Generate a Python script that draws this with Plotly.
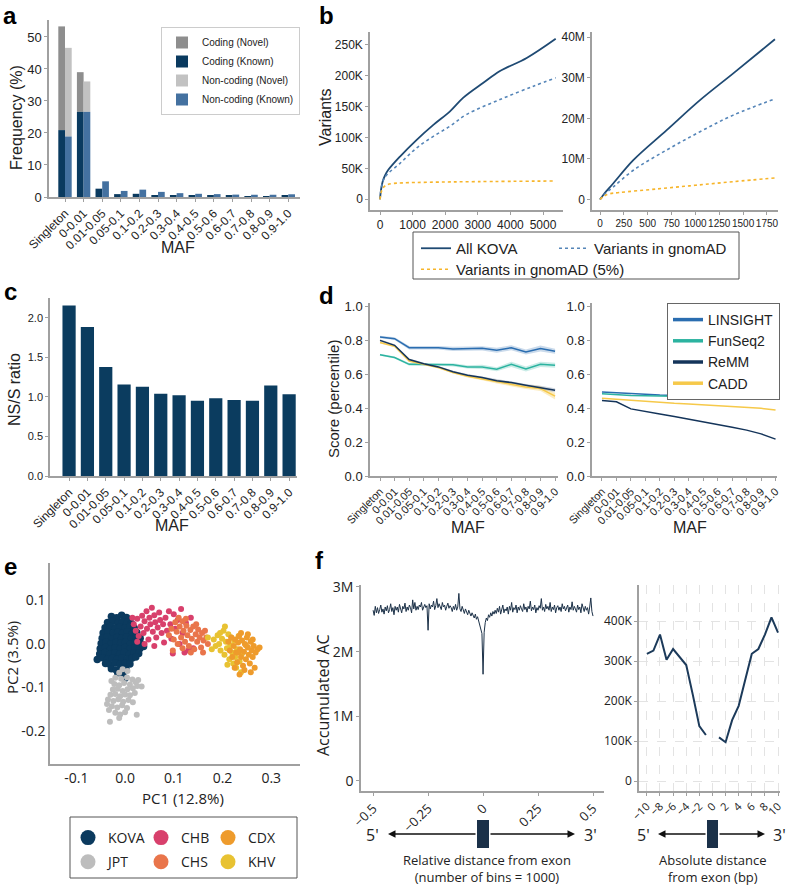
import plotly.graph_objects as go

W, H = 788, 885
def fx(px): return px / W
def fy(py): return 1 - py / H

FONT = "Liberation Sans, Arial, sans-serif"
FONT2 = "Open Sans, sans-serif"
TXT = "#222222"
AXC = "#a0a0a0"

# ---------------- data ----------------
maf_cats = ["Singleton", "0-0.01", "0.01-0.05", "0.05-0.1", "0.1-0.2", "0.2-0.3", "0.3-0.4",
            "0.4-0.5", "0.5-0.6", "0.6-0.7", "0.7-0.8", "0.8-0.9", "0.9-1.0"]

# panel a (frequency %)
a_coding_known = [20.9, 26.6, 2.6, 0.9, 1.0, 0.6, 0.5, 0.45, 0.35, 0.35, 0.3, 0.3, 0.35]
a_coding_total = [53.3, 39.0, 2.6, 0.9, 1.0, 0.6, 0.5, 0.45, 0.35, 0.35, 0.3, 0.3, 0.35]
a_noncoding_known = [18.9, 26.6, 4.9, 1.9, 2.3, 1.6, 1.2, 1.0, 0.9, 0.75, 0.7, 0.7, 0.85]
a_noncoding_total = [46.6, 36.1, 4.9, 1.9, 2.3, 1.6, 1.2, 1.0, 0.9, 0.75, 0.7, 0.7, 0.85]
a_yticks = [0, 10, 20, 30, 40, 50]

# panel b (variants vs samples)
bL_kova_x = [0, 30, 82, 150, 255, 613, 1125, 1636, 2147, 2556, 3170, 3680, 4499, 5389]
bL_kova_y = [0, 15, 28.6, 38, 47.5, 69, 96, 120, 142, 164, 188, 207, 228, 259]          # thousands
bL_gnomad_x = [0, 40, 120, 255, 613, 1125, 1636, 2147, 2658, 3680, 4703, 5389]
bL_gnomad_y = [0, 18, 33, 42, 58, 83, 101.5, 118, 137, 161, 182.5, 196]
bL_g5_x = [0, 40, 100, 200, 400, 700, 1500, 3000, 5389]
bL_g5_y = [0, 12, 19, 23, 25.5, 26.5, 27.5, 28.5, 29.5]
bL_yticks = [0, 50, 100, 150, 200, 250]
bL_yticktext = ["0", "50K", "100K", "150K", "200K", "250K"]
bL_xticks = [0, 1000, 2000, 3000, 4000, 5000]

bR_kova_x = [0, 40, 140, 349, 699, 1048, 1397, 1834]
bR_kova_y = [0, 1.3, 4.0, 9.7, 17.1, 24.5, 31.1, 39.5]                                  # millions
bR_gnomad_x = [0, 40, 140, 349, 699, 1048, 1397, 1834]
bR_gnomad_y = [0, 1.1, 3.1, 7.2, 12.2, 16.7, 20.8, 24.8]
bR_g5_x = [0, 40, 100, 200, 600, 1000, 1400, 1834]
bR_g5_y = [0, 0.8, 1.4, 1.7, 2.6, 3.5, 4.4, 5.3]
bR_yticks = [0, 10, 20, 30, 40]
bR_yticktext = ["0", "10M", "20M", "30M", "40M"]
bR_xticks = [0, 250, 500, 750, 1000, 1250, 1500, 1750]

# panel c (NS/S ratio)
c_ratio = [2.157, 1.886, 1.381, 1.157, 1.131, 1.042, 1.021, 0.953, 0.983, 0.962, 0.953, 1.144, 1.034]

# panel d (score percentile)
dL_linsight = [0.818, 0.808, 0.755, 0.755, 0.755, 0.748, 0.748, 0.751, 0.740, 0.755, 0.730, 0.750, 0.734]
dL_funseq2 = [0.714, 0.697, 0.657, 0.657, 0.657, 0.654, 0.642, 0.642, 0.628, 0.657, 0.630, 0.657, 0.652]
dL_remm = [0.798, 0.769, 0.685, 0.661, 0.642, 0.613, 0.593, 0.579, 0.560, 0.550, 0.534, 0.521, 0.505]
dL_cadd = [0.785, 0.763, 0.677, 0.657, 0.638, 0.609, 0.587, 0.571, 0.554, 0.538, 0.524, 0.515, 0.470]
dL_linsight_err = [0.008, 0.008, 0.010, 0.010, 0.010, 0.012, 0.012, 0.012, 0.015, 0.015, 0.015, 0.018, 0.015]
dL_funseq2_err = [0.006, 0.006, 0.008, 0.008, 0.008, 0.010, 0.010, 0.012, 0.012, 0.015, 0.015, 0.015, 0.015]
dL_remm_err = [0.006, 0.006, 0.006, 0.006, 0.006, 0.006, 0.007, 0.007, 0.008, 0.008, 0.008, 0.010, 0.012]
dL_cadd_err = [0.006, 0.006, 0.006, 0.006, 0.006, 0.006, 0.007, 0.008, 0.010, 0.012, 0.012, 0.015, 0.020]
dR_linsight = [0.495, 0.490, 0.482, 0.478, 0.476, 0.474, 0.472, 0.470, 0.468, 0.467, 0.466, 0.466, 0.462]
dR_funseq2 = [0.484, 0.478, 0.474, 0.472, 0.470, 0.468, 0.466, 0.465, 0.464, 0.463, 0.462, 0.462, 0.460]
dR_remm = [0.445, 0.437, 0.395, 0.378, 0.365, 0.350, 0.335, 0.320, 0.302, 0.287, 0.270, 0.248, 0.217]
dR_cadd = [0.458, 0.452, 0.442, 0.436, 0.432, 0.428, 0.424, 0.419, 0.414, 0.409, 0.404, 0.398, 0.388]

# panel e (PCA)
KOVA_x = [-0.028, -0.017, -0.007, 0.003,
          -0.036, -0.025, -0.015, -0.005, 0.005, 0.013,
          -0.041, -0.030, -0.020, -0.010, 0.000, 0.010, 0.019,
          -0.045, -0.035, -0.025, -0.015, -0.005, 0.005, 0.015, 0.024,
          -0.047, -0.037, -0.027, -0.017, -0.007, 0.003, 0.013, 0.023, 0.031,
          -0.049, -0.039, -0.029, -0.019, -0.009, 0.001, 0.011, 0.021, 0.032,
          -0.051, -0.040, -0.030, -0.020, -0.010, 0.000, 0.010, 0.020, 0.030, 0.038,
          -0.052, -0.041, -0.031, -0.021, -0.011, -0.001, 0.009, 0.019, 0.028,
          -0.057, -0.046, -0.036, -0.026, -0.016, -0.006, 0.004, 0.014, 0.022,
          -0.040, -0.030, -0.020, -0.010, 0.000, 0.010,
          -0.028, -0.018, -0.008, 0.002,
          -0.015, 0.000, -0.005]
KOVA_y = [0.063, 0.060, 0.066, 0.061,
          0.049, 0.052, 0.048, 0.051, 0.050, 0.047,
          0.037, 0.040, 0.036, 0.039, 0.037, 0.040, 0.036,
          0.025, 0.028, 0.024, 0.027, 0.025, 0.028, 0.024, 0.026,
          0.013, 0.016, 0.012, 0.015, 0.013, 0.016, 0.012, 0.015, 0.013,
          0.001, 0.004, 0.000, 0.003, 0.001, 0.004, 0.000, 0.003, 0.001,
          -0.011, -0.008, -0.012, -0.009, -0.011, -0.008, -0.012, -0.009, -0.011, -0.006,
          -0.023, -0.020, -0.024, -0.021, -0.023, -0.020, -0.024, -0.021, -0.022,
          -0.036, -0.032, -0.035, -0.033, -0.035, -0.032, -0.036, -0.033, -0.030,
          -0.045, -0.048, -0.044, -0.047, -0.045, -0.046,
          -0.057, -0.060, -0.056, -0.059,
          -0.066, -0.079, -0.069]
JPT_x = [-0.005, 0.005, -0.012,
         -0.020, -0.008, 0.004, 0.015, -0.028,
         -0.022, -0.012, -0.002, 0.010, 0.022, 0.027,
         -0.025, -0.015, -0.005, 0.005, 0.016, 0.025,
         -0.030, -0.020, -0.010, 0.000, 0.010, 0.020, 0.034,
         -0.035, -0.024, -0.014, -0.004, 0.007, 0.016,
         -0.027, -0.016, -0.006, 0.004, -0.033,
         -0.020, -0.010, 0.000, -0.012,
         -0.031, 0.024, -0.037]
JPT_y = [-0.058, -0.062, -0.066,
         -0.078, -0.080, -0.077, -0.082, -0.085,
         -0.092, -0.095, -0.090, -0.093, -0.088, -0.083,
         -0.105, -0.103, -0.108, -0.104, -0.102, -0.097,
         -0.117, -0.115, -0.120, -0.116, -0.118, -0.113, -0.098,
         -0.128, -0.131, -0.127, -0.133, -0.129, -0.134,
         -0.143, -0.146, -0.141, -0.147, -0.152,
         -0.158, -0.162, -0.157, -0.170,
         -0.179, -0.163, -0.138]
CHB_x = [0.018, 0.022, 0.025, 0.028, 0.032, 0.035, 0.038, 0.040, 0.044, 0.045,
         0.048, 0.050, 0.052, 0.055, 0.057, 0.060, 0.062, 0.064, 0.067, 0.070,
         0.072, 0.075, 0.078, 0.080, 0.083, 0.086, 0.090, 0.093, 0.095, 0.100,
         0.103, 0.108, 0.112, 0.115, 0.118, 0.122, 0.125, 0.130, 0.135, 0.140,
         0.060, 0.040, 0.025, 0.015, 0.098]
CHB_y = [0.045, 0.030, 0.058, 0.018, 0.040, 0.065, 0.025, 0.052, 0.075, 0.035,
         0.010, 0.060, 0.045, 0.083, 0.028, 0.066, 0.050, 0.015, 0.038, 0.072,
         0.055, 0.025, 0.045, 0.003, 0.060, 0.030, 0.075, 0.045, 0.012, 0.068,
         0.035, 0.055, 0.000, 0.080, 0.025, -0.020, 0.048, -0.015, 0.060, -0.010,
         -0.005, 0.000, 0.005, 0.060, -0.022]
CHS_x = [0.090, 0.095, 0.100, 0.103, 0.106, 0.110, 0.112, 0.115, 0.118, 0.120,
         0.123, 0.126, 0.128, 0.131, 0.134, 0.137, 0.140, 0.142, 0.145, 0.148,
         0.150, 0.153, 0.156, 0.158, 0.161, 0.164, 0.167, 0.170,
         0.135, 0.118, 0.108, 0.146, 0.160, 0.125, 0.098]
CHS_y = [0.020, 0.035, 0.010, 0.050, 0.028, 0.060, 0.040, 0.015, 0.052, 0.030,
         0.005, 0.042, 0.020, -0.005, 0.032, 0.012, 0.040, -0.012, 0.022, 0.005,
         0.033, 0.015, -0.008, 0.025, 0.008, 0.030, 0.015, 0.000,
         -0.020, -0.010, 0.000, 0.045, -0.020, 0.058, -0.015]
KHV_x = [0.182, 0.186, 0.190, 0.193, 0.196, 0.199, 0.202, 0.204, 0.207, 0.209,
         0.212, 0.214, 0.216, 0.218, 0.220, 0.222, 0.224, 0.226, 0.228, 0.230,
         0.233, 0.235, 0.238, 0.240, 0.210, 0.195, 0.170, 0.178, 0.205]
KHV_y = [0.010, -0.005, 0.020, 0.000, -0.015, 0.012, 0.030, -0.025, 0.005, -0.010,
         0.022, -0.035, -0.003, 0.015, -0.020, -0.045, 0.008, -0.030, -0.055, -0.012,
         0.018, -0.040, -0.065, -0.022, -0.048, 0.025, 0.015, -0.012, 0.040]
CDX_x = [0.212, 0.215, 0.218, 0.220, 0.223, 0.226, 0.228, 0.230, 0.232, 0.234,
         0.236, 0.238, 0.240, 0.242, 0.244, 0.246, 0.248, 0.250, 0.252, 0.254,
         0.256, 0.258, 0.260, 0.262, 0.264, 0.266, 0.268, 0.272, 0.276,
         0.245, 0.235, 0.225, 0.252, 0.238, 0.258, 0.232, 0.248, 0.262]
CDX_y = [0.005, -0.015, 0.015, -0.030, -0.005, 0.010, -0.020, -0.042, 0.003, 0.018,
         -0.012, -0.030, 0.008, -0.050, -0.018, 0.000, -0.035, 0.015, -0.008, -0.025,
         -0.045, 0.005, -0.015, -0.030, -0.005, -0.055, -0.020, -0.012, -0.008,
         -0.060, -0.070, -0.055, 0.022, 0.025, -0.065, -0.020, -0.003, 0.010]
e_xticks = [-0.1, 0.0, 0.1, 0.2, 0.3]
e_xticktext = ["-0.1", "0.0", "0.1", "0.2", "0.3"]
e_yticks = [-0.2, -0.1, 0.0, 0.1]
e_yticktext = ["-0.2", "-0.1", "0.0", "0.1"]

# panel f (accumulated AC, thousands)
f_left_ac = [2640, 2560, 2700, 2600, 2680, 2590, 2650, 2720, 2610, 2660,
             2580, 2690, 2630, 2710, 2600, 2650, 2740, 2620, 2680, 2570,
             2700, 2640, 2690, 2610, 2730, 2650, 2600, 2700, 2660, 2750,
             2620, 2690, 2640, 2720, 2680, 2600, 2800, 2660, 2760, 2640, 2700,
             2650, 2720, 2690, 2760, 2640, 2700, 2730, 2680, 2710, 2330,
             2740, 2660, 2720, 2690, 2780, 2650, 2710, 2820, 2680, 2740,
             2700, 2650, 2760, 2690, 2720, 2640, 2700, 2750, 2670, 2710,
             2680, 2620, 2700, 2650, 2730, 2640, 2690, 2900, 2660, 2620,
             2700, 2640, 2590, 2660, 2610, 2570, 2640, 2590, 2550, 2600,
             2560, 2520, 2580, 2500, 2540, 2470, 2420, 2350, 2280,
             1650,
             2300, 2450, 2520, 2480, 2570, 2530, 2600, 2550, 2620, 2580,
             2640, 2590, 2670, 2610, 2700, 2580, 2650, 2720, 2600, 2660,
             2630, 2690, 2580, 2700, 2640, 2760, 2610, 2680, 2650, 2720,
             2600, 2690, 2640, 2710, 2660, 2620, 2740, 2650, 2690, 2610,
             2700, 2660, 2780, 2630, 2690, 2650, 2720, 2600, 2680, 2640,
             2710, 2670, 2820, 2640, 2690, 2620, 2730, 2660, 2700, 2640,
             2760, 2620, 2690, 2650, 2720, 2600, 2680, 2710, 2640, 2690,
             2620, 2740, 2660, 2700, 2630, 2680, 2720, 2610, 2690, 2650,
             2770, 2640, 2700, 2660, 2610, 2720, 2650, 2690, 2600, 2740,
             2660, 2620, 2700, 2640, 2680, 2580, 2690, 2830, 2620, 2550]
f_left_bins = [-0.5 + 0.005 * i for i in range(len(f_left_ac))]
f_right_x = [-10, -9, -8, -7, -6, -5, -4, -3, -2, -1, 0, 1, 2, 3, 4, 5, 6, 7, 8, 9, 10]
f_right_ac = [318, 326, 366, 303, 330, 311, 290, 216, 137, 115, None,
              109, 97, 152, 188, 253, 318, 330, 366, 409, 371]
fL_yticks = [0, 1000, 2000, 3000]
fL_yticktext = ["0", "1M", "2M", "3M"]
fL_xticks = [-0.5, -0.25, 0, 0.25, 0.5]
fR_yticks = [0, 100, 200, 300, 400]
fR_yticktext = ["0", "100K", "200K", "300K", "400K"]
fR_xticks = [-10, -8, -6, -4, -2, 0, 2, 4, 6, 8, 10]

# ---------------- figure ----------------
fig = go.Figure()

# panel a
a_coding_novel = [t - k for t, k in zip(a_coding_total, a_coding_known)]
a_noncoding_novel = [t - k for t, k in zip(a_noncoding_total, a_noncoding_known)]
fig.add_trace(go.Bar(x=maf_cats, y=a_coding_novel, base=a_coding_known, name="Coding (Novel)",
                     marker=dict(color="#8e8e8e", line_width=0), offsetgroup="coding",
                     xaxis="x", yaxis="y", legend="legend"))
fig.add_trace(go.Bar(x=maf_cats, y=a_coding_known, name="Coding (Known)",
                     marker=dict(color="#0a3a5f", line_width=0), offsetgroup="coding",
                     xaxis="x", yaxis="y", legend="legend"))
fig.add_trace(go.Bar(x=maf_cats, y=a_noncoding_novel, base=a_noncoding_known, name="Non-coding (Novel)",
                     marker=dict(color="#c2c2c2", line_width=0), offsetgroup="noncoding",
                     xaxis="x", yaxis="y", legend="legend"))
fig.add_trace(go.Bar(x=maf_cats, y=a_noncoding_known, name="Non-coding (Known)",
                     marker=dict(color="#4471a0", line_width=0), offsetgroup="noncoding",
                     xaxis="x", yaxis="y", legend="legend"))

# panel b
KOVA_C, GNOMAD_C, G5_C = "#1f4a73", "#5585b8", "#f7b52a"
for xa, ya, xs, ys, show in [("x2", "y2", (bL_kova_x, bL_gnomad_x, bL_g5_x), (bL_kova_y, bL_gnomad_y, bL_g5_y), True),
                             ("x3", "y3", (bR_kova_x, bR_gnomad_x, bR_g5_x), (bR_kova_y, bR_gnomad_y, bR_g5_y), False)]:
    fig.add_trace(go.Scatter(x=xs[0], y=ys[0], mode="lines", name="All KOVA", line=dict(color=KOVA_C, width=1.8, shape="spline"),
                             xaxis=xa, yaxis=ya, showlegend=show, legend="legend2"))
    fig.add_trace(go.Scatter(x=xs[1], y=ys[1], mode="lines", name="Variants in gnomAD", line=dict(color=GNOMAD_C, width=1.6, dash="dot", shape="spline"),
                             xaxis=xa, yaxis=ya, showlegend=show, legend="legend3"))
    fig.add_trace(go.Scatter(x=xs[2], y=ys[2], mode="lines", name="Variants in gnomAD (5%)", line=dict(color=G5_C, width=1.6, dash="dot", shape="spline"),
                             xaxis=xa, yaxis=ya, showlegend=show, legend="legend7"))

# panel c
fig.add_trace(go.Bar(x=maf_cats, y=c_ratio, marker=dict(color="#0b3c5f", line_width=0), showlegend=False,
                     offsetgroup="c", xaxis="x4", yaxis="y4"))

# panel d
D_COLS = {"LINSIGHT": "#2a6db0", "FunSeq2": "#2cb3a0", "ReMM": "#14345a", "CADD": "#f6c94a"}
D_FILL = {"LINSIGHT": "rgba(42,109,176,0.25)", "FunSeq2": "rgba(44,179,160,0.25)",
          "ReMM": "rgba(20,52,90,0.2)", "CADD": "rgba(246,201,74,0.35)"}
left_series = [("LINSIGHT", dL_linsight, dL_linsight_err), ("FunSeq2", dL_funseq2, dL_funseq2_err),
               ("CADD", dL_cadd, dL_cadd_err), ("ReMM", dL_remm, dL_remm_err)]
for name, vals, err in left_series:
    up = [v + e for v, e in zip(vals, err)]
    lo = [v - e for v, e in zip(vals, err)]
    fig.add_trace(go.Scatter(x=maf_cats + maf_cats[::-1], y=up + lo[::-1], fill="toself", fillcolor=D_FILL[name],
                             line=dict(width=0), mode="lines", showlegend=False, hoverinfo="skip",
                             xaxis="x5", yaxis="y5"))
for name, vals, err in left_series:
    fig.add_trace(go.Scatter(x=maf_cats, y=vals, mode="lines", line=dict(color=D_COLS[name], width=1.5),
                             showlegend=False, xaxis="x5", yaxis="y5", name=name))
for name, vals in [("LINSIGHT", dR_linsight), ("FunSeq2", dR_funseq2), ("CADD", dR_cadd), ("ReMM", dR_remm)]:
    fig.add_trace(go.Scatter(x=maf_cats, y=vals, mode="lines", line=dict(color=D_COLS[name], width=1.5),
                             showlegend=False, xaxis="x6", yaxis="y6", name=name))
for name in ["LINSIGHT", "FunSeq2", "ReMM", "CADD"]:
    fig.add_trace(go.Scatter(x=[None], y=[None], mode="lines", line=dict(color=D_COLS[name], width=3.5),
                             name=name, legend="legend4", xaxis="x6", yaxis="y6"))

# panel e
E_COLS = {"KOVA": "#0b3a5e", "JPT": "#bdbdbd", "CHB": "#d8406c", "CHS": "#e9754b", "CDX": "#ee9b2c", "KHV": "#e8c232"}
for name, xs, ys, sz in [("KOVA", KOVA_x, KOVA_y, 7.5), ("JPT", JPT_x, JPT_y, 6), ("CHB", CHB_x, CHB_y, 6),
                         ("CHS", CHS_x, CHS_y, 6), ("KHV", KHV_x, KHV_y, 6), ("CDX", CDX_x, CDX_y, 6)]:
    fig.add_trace(go.Scatter(x=xs, y=ys, mode="markers", marker=dict(color=E_COLS[name], size=sz, line_width=0),
                             name=name, showlegend=False, xaxis="x7", yaxis="y7"))
for name, lg in [("KOVA", "legend5"), ("JPT", "legend5"), ("CHB", "legend6"),
                 ("CHS", "legend6"), ("CDX", "legend8"), ("KHV", "legend8")]:
    fig.add_trace(go.Scatter(x=[None], y=[None], mode="markers", marker=dict(color=E_COLS[name], size=15),
                             name=name, legend=lg, legendgroup=name, xaxis="x7", yaxis="y7"))

# panel f
fig.add_trace(go.Scatter(x=f_left_bins, y=f_left_ac, mode="lines", line=dict(color="#1c3148", width=1),
                         showlegend=False, xaxis="x8", yaxis="y8"))
fig.add_trace(go.Scatter(x=f_right_x, y=f_right_ac, mode="lines", line=dict(color="#1c3a5a", width=2),
                         connectgaps=False, showlegend=False, xaxis="x9", yaxis="y9"))

# ---------------- layout ----------------
def axis(domain, anchor, size=12, family=FONT, **kw):
    d = dict(domain=domain, anchor=anchor, showline=True, linecolor=AXC, linewidth=1.5,
             showgrid=False, zeroline=False, ticks="outside", ticklen=3, tickwidth=1, tickcolor=AXC,
             tickfont=dict(family=family, size=size, color=TXT), fixedrange=True)
    d.update(kw)
    return d

def txt(text, px, py, size, family=FONT, angle=0, xanchor="center", yanchor="middle", color=TXT):
    return dict(text=text, x=fx(px), y=fy(py), xref="paper", yref="paper", showarrow=False,
                font=dict(family=family, size=size, color=color), textangle=angle,
                xanchor=xanchor, yanchor=yanchor)

def hleg(px, py, size=15, family=FONT, **kw):
    d = dict(x=fx(px), y=fy(py), xanchor="left", yanchor="top", orientation="h",
             bgcolor="rgba(0,0,0,0)", font=dict(family=family, size=size, color=TXT))
    d.update(kw)
    return d

def vleg(px, py, size=14, family=FONT2, **kw):
    d = dict(x=fx(px), y=fy(py), xanchor="left", yanchor="top", orientation="v",
             bgcolor="rgba(0,0,0,0)", font=dict(family=family, size=size, color=TXT),
             tracegroupgap=3)
    d.update(kw)
    return d

layout = dict(
    width=W, height=H, margin=dict(l=0, r=0, t=0, b=0, autoexpand=False),
    paper_bgcolor="white", plot_bgcolor="white", showlegend=True,
    barmode="group", bargap=0.28, bargroupgap=0,
    # a
    xaxis=axis([fx(49), fx(300)], "y", size=12, type="category", range=[-0.86, 12.63], tickangle=-45),
    yaxis=axis([fy(197), fy(20)], "x", size=13, range=[0, 55.3], tickvals=a_yticks),
    # b
    xaxis2=axis([fx(370), fx(563)], "y2", size=12, range=[-307, 5613], tickvals=bL_xticks, tickangle=0),
    yaxis2=axis([fy(210), fy(32)], "x2", size=12, range=[-17.3, 270], tickvals=bL_yticks, ticktext=bL_yticktext),
    xaxis3=axis([fx(592), fx(778)], "y3", size=10, range=[-84, 1866], tickvals=bR_xticks, tickangle=0),
    yaxis3=axis([fy(210), fy(32)], "x3", size=12, range=[-2.6, 41.3], tickvals=bR_yticks, ticktext=bR_yticktext),
    # c
    xaxis4=axis([fx(50), fx(297)], "y4", size=12, type="category", range=[-1.04, 12.43], tickangle=-45),
    yaxis4=axis([fy(476), fy(298)], "x4", size=11, range=[0, 2.253], tickvals=[0, 0.5, 1.0, 1.5, 2.0], tickformat=".1f"),
    # d
    xaxis5=axis([fx(370), fx(558)], "y5", size=11, type="category", range=[-0.686, 12.2], tickangle=-45),
    yaxis5=axis([fy(476), fy(303)], "x5", size=13, range=[0, 1.018], tickvals=[0, 0.2, 0.4, 0.6, 0.8, 1.0], tickformat=".1f"),
    xaxis6=axis([fx(592), fx(777)], "y6", size=11, type="category", range=[-0.69, 12.1], tickangle=-45),
    yaxis6=axis([fy(476), fy(303)], "x6", size=13, range=[0, 1.018], tickvals=[0, 0.2, 0.4, 0.6, 0.8, 1.0], tickformat=".1f"),
    # e
    xaxis7=axis([fx(50), fx(300)], "y7", size=14, family=FONT2, range=[-0.154, 0.359], ticks="",
                tickvals=e_xticks, ticktext=e_xticktext),
    yaxis7=axis([fy(764), fy(563)], "x7", size=14, family=FONT2, range=[-0.276, 0.186], ticks="",
                tickvals=e_yticks, ticktext=e_yticktext),
    # f
    xaxis8=axis([fx(361), fx(604)], "y8", size=13, family=FONT2, range=[-0.555, 0.55], tickvals=fL_xticks, tickangle=-45),
    yaxis8=axis([fy(791), fy(585)], "x8", size=14, family=FONT2, range=[-155, 3030], tickvals=fL_yticks, ticktext=fL_yticktext),
    xaxis9=axis([fx(639), fx(780)], "y9", size=11, family=FONT2, range=[-11.2, 10.3], tickvals=fR_xticks, tickangle=-45,
                showgrid=True, gridcolor="#e3e3e3", griddash="dash", gridwidth=1),
    yaxis9=axis([fy(791), fy(585)], "x9", size=12, family=FONT2, range=[-25, 490], tickvals=fR_yticks, ticktext=fR_yticktext,
                showgrid=True, gridcolor="#e3e3e3", griddash="dash", gridwidth=1),
    # legends
    legend=dict(x=fx(300), y=fy(27), xanchor="right", yanchor="top", bgcolor="white",
                bordercolor="#cccccc", borderwidth=1, font=dict(family=FONT, size=10, color=TXT),
                tracegroupgap=0, itemwidth=30),
    legend2=hleg(416, 232),
    legend3=hleg(554, 232),
    legend7=hleg(416, 253),
    legend4=dict(x=fx(667), y=fy(303), xanchor="left", yanchor="top", bgcolor="white",
                 bordercolor="#666666", borderwidth=1, font=dict(family=FONT, size=14, color=TXT),
                 tracegroupgap=0),
    legend5=vleg(68, 822),
    legend6=vleg(141, 822),
    legend8=vleg(208, 822),
)
fig.update_layout(**layout)

shapes = [
    dict(type="rect", xref="paper", yref="paper", x0=fx(413), x1=fx(739), y0=fy(279), y1=fy(232),
         line=dict(color="#555555", width=1), fillcolor="rgba(0,0,0,0)"),
    dict(type="rect", xref="paper", yref="paper", x0=fx(70), x1=fx(297), y0=fy(878), y1=fy(817),
         line=dict(color="#555555", width=1), fillcolor="rgba(0,0,0,0)"),
    dict(type="rect", xref="paper", yref="paper", x0=fx(477), x1=fx(489), y0=fy(848), y1=fy(820),
         line=dict(width=0), fillcolor="#1b3149"),
    dict(type="rect", xref="paper", yref="paper", x0=fx(707), x1=fx(718), y0=fy(848), y1=fy(820),
         line=dict(width=0), fillcolor="#1b3149"),
]
fig.update_layout(shapes=shapes)

def arrow(head_px, tail_px, py):
    return dict(x=fx(head_px), y=fy(py), xref="paper", yref="paper", ax=tail_px - head_px, ay=0,
                axref="pixel", ayref="pixel", text="", showarrow=True, arrowhead=2, arrowsize=1,
                arrowwidth=1.5, arrowcolor="#111111")

B = "<b>{}</b>"
anns = [
    txt(B.format("a"), 10, 0, 24, family=FONT, color="#000", yanchor="top"),
    txt(B.format("b"), 326, 0, 24, family=FONT, color="#000", yanchor="top"),
    txt(B.format("c"), 10, 276, 24, family=FONT, color="#000", yanchor="top"),
    txt(B.format("d"), 326, 280, 24, family=FONT, color="#000", yanchor="top"),
    txt(B.format("e"), 10, 551, 24, family=FONT, color="#000", yanchor="top"),
    txt(B.format("f"), 319, 545, 24, family=FONT, color="#000", yanchor="top"),
    # axis titles
    txt("Frequency (%)", 17, 118, 16, angle=-90),
    txt("MAF", 178, 247, 16),
    txt("Variants", 325, 117, 16, angle=-90),
    txt("NS/S ratio", 15, 390, 16, angle=-90),
    txt("MAF", 172, 525, 16),
    txt("Score (percentile)", 333, 399, 15, angle=-90),
    txt("MAF", 468, 527, 16),
    txt("MAF", 690, 527, 16),
    txt("PC2 (3.5%)", 12, 658, 15, family=FONT2, angle=-90),
    txt("PC1 (12.8%)", 183, 798, 15, family=FONT2),
    txt("Accumulated AC", 323, 695, 16, family=FONT2, angle=-90),
    # exon schematic
    txt("5'", 372, 835, 16, family=FONT2),
    txt("3'", 590, 835, 16, family=FONT2),
    txt("5'", 643, 835, 16, family=FONT2),
    txt("3'", 779, 835, 16, family=FONT2),
    txt("Relative distance from exon<br>(number of bins = 1000)", 487, 868, 13, family=FONT2),
    txt("Absolute distance<br>from exon (bp)", 713, 868, 13, family=FONT2),
    arrow(388, 477, 834), arrow(575, 489, 834),
    arrow(658, 707, 834), arrow(765, 718, 834),
]
fig.update_layout(annotations=anns)

fig.write_html("out.html", config={"displayModeBar": False},
               post_script="document.body.style.margin='0px';document.body.style.padding='0px';")
